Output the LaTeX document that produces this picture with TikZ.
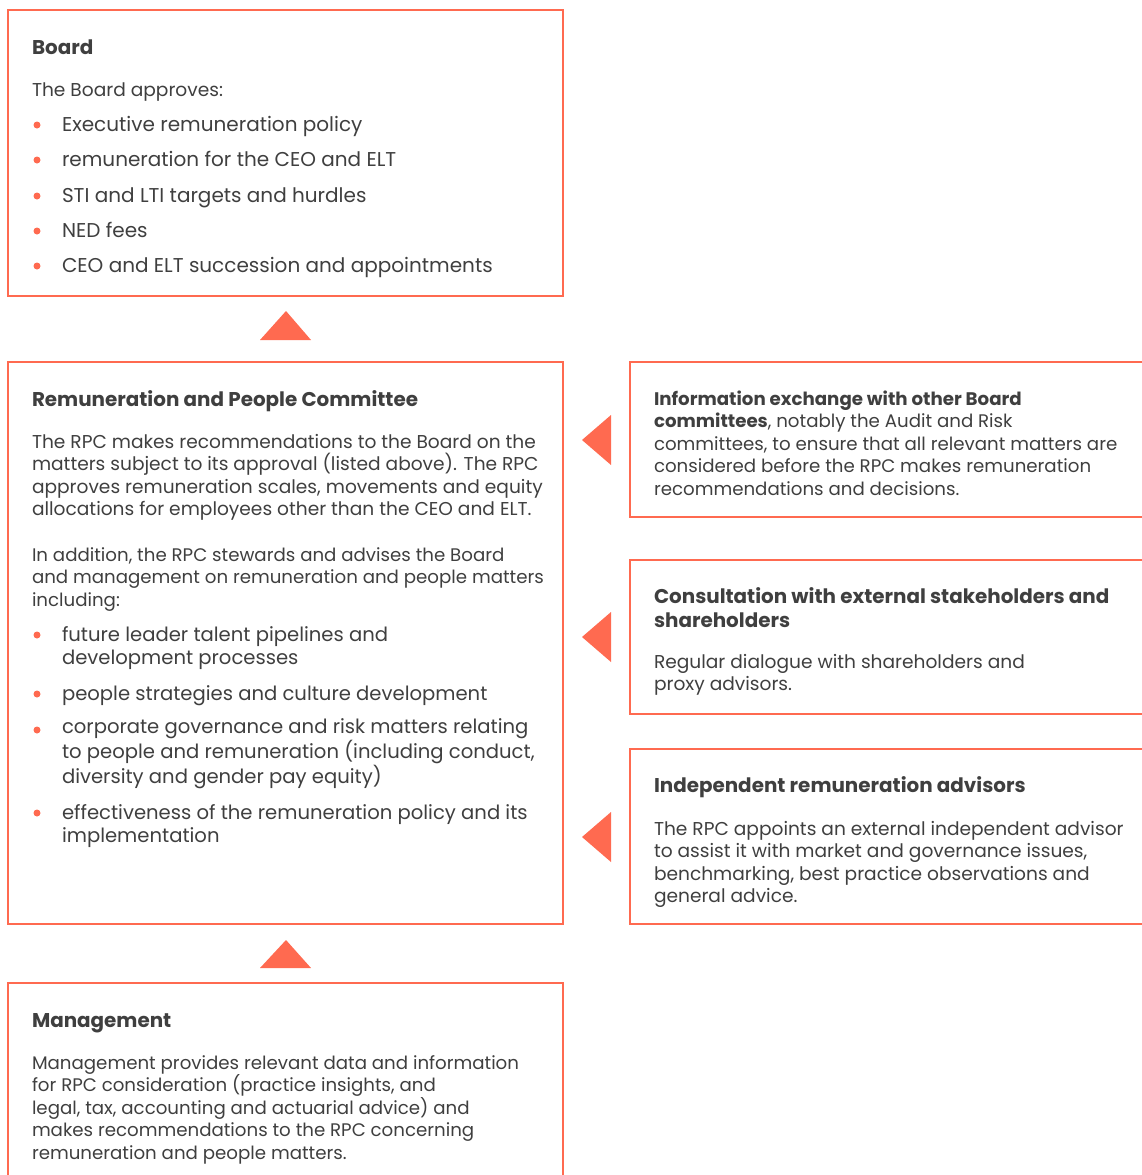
\documentclass[tikz,border=0pt]{standalone}
\usepackage{fontspec}
\setmainfont{Poppins}
\definecolor{coral}{HTML}{FF6A50}
\definecolor{ink}{HTML}{3F3F3F}
\begin{document}
\begin{tikzpicture}[x=1pt,y=-1pt,
  box/.style={draw=coral, line width=2.5pt, anchor=north west, inner sep=0pt, outer sep=0pt},
  txt/.style={anchor=base west, inner sep=0pt, outer sep=0pt, text=ink, align=left,
    font=\fontsize{18.6}{22.5}\selectfont},
  stxt/.style={txt, font=\fontsize{18.2}{22.5}\selectfont},
  btxt/.style={txt, font=\fontsize{19.6}{23.5}\selectfont},
  bbtxt/.style={txt, font=\fontsize{20}{23.5}\selectfont},
  head/.style={txt, font=\fontsize{19.9}{24}\selectfont\bfseries},
  dot/.style={circle, fill=coral, inner sep=0pt, minimum size=7pt},
  tri/.style={fill=coral}]
\useasboundingbox (0,0) rectangle (1141,1175);
% boxes
\node[box, minimum width=555pt, minimum height=286pt] (board) at (8,10) {};
\node[box, minimum width=555pt, minimum height=562pt] (rpc) at (8,362) {};
\node[box, minimum width=555pt, minimum height=230pt] (mgmt) at (8,983) {};
\node[box, minimum width=540pt, minimum height=155pt] (info) at (630,362) {};
\node[box, minimum width=540pt, minimum height=154pt] (cons) at (630,560) {};
\node[box, minimum width=540pt, minimum height=175pt] (indep) at (630,749) {};
% triangles
\fill[tri] (286,311) -- (311,340) -- (260,340) -- cycle;
\fill[tri] (286,940) -- (311,968) -- (260,968) -- cycle;
\fill[tri] (582,440) -- (611,415) -- (611,465) -- cycle;
\fill[tri] (582,637) -- (611,612) -- (611,662) -- cycle;
\fill[tri] (582,837) -- (611,812) -- (611,862) -- cycle;
% Board
\node[head] (boardh) at (32,54) {Board};
\node[txt] (boardt) at (32,96) {The Board approves:};
\foreach \y/\t [count=\i] in {131/Executive remuneration policy,166/remuneration for the CEO and ELT,202/STI and LTI targets and hurdles,237/NED fees,272/CEO and ELT succession and appointments}{
  \node[dot] (bd\i) at (37,\y-6) {};
  \node[bbtxt] (bt\i) at (62,\y) {\t};
}
% RPC (multi-line nodes: base anchor is the last line's baseline)
\node[head] (rpch) at (32,406) {Remuneration and People Committee};
\node[txt] (rpcp1) at (32,515.5) {The RPC makes recommendations to the Board on the\\matters subject to its approval (listed above). The RPC\\approves remuneration scales, movements and equity\\allocations for employees other than the CEO and ELT.};
\node[stxt] (rpcp2) at (32,606) {In addition, the RPC stewards and advises the Board\\and management on remuneration and people matters\\including:};
\node[dot] (rd1) at (37,635) {};
\node[btxt] (rt1) at (62,664.5) {future leader talent pipelines and\\development processes};
\node[dot] (rd2) at (37,694) {};
\node[btxt] (rt2) at (62,700) {people strategies and culture development};
\node[dot] (rd3) at (37,730) {};
\node[btxt] (rt3) at (62,783) {corporate governance and risk matters relating\\to people and remuneration (including conduct,\\diversity and gender pay equity)};
\node[dot] (rd4) at (37,813) {};
\node[btxt] (rt4) at (62,842.5) {effectiveness of the remuneration policy and its\\implementation};
% Info
\node[stxt] (infot) at (654,495) {\textbf{Information exchange with other Board}\\\textbf{committees}, notably the Audit and Risk\\committees, to ensure that all relevant matters are\\considered before the RPC makes remuneration\\recommendations and decisions.};
% Consultation
\node[head] (consh) at (654,627) {Consultation with external stakeholders and\\shareholders};
\node[txt] (const) at (654,690.5) {Regular dialogue with shareholders and\\proxy advisors.};
% Independent
\node[head] (indh) at (654,792) {Independent remuneration advisors};
\node[txt] (indt) at (654,902.5) {The RPC appoints an external independent advisor\\to assist it with market and governance issues,\\benchmarking, best practice observations and\\general advice.};
% Management
\node[head] (mgmth) at (32,1027) {Management};
\node[stxt] (mgmtt) at (32,1159) {Management provides relevant data and information\\for RPC consideration (practice insights, and\\legal, tax, accounting and actuarial advice) and\\makes recommendations to the RPC concerning\\remuneration and people matters.};
\end{tikzpicture}
\end{document}
